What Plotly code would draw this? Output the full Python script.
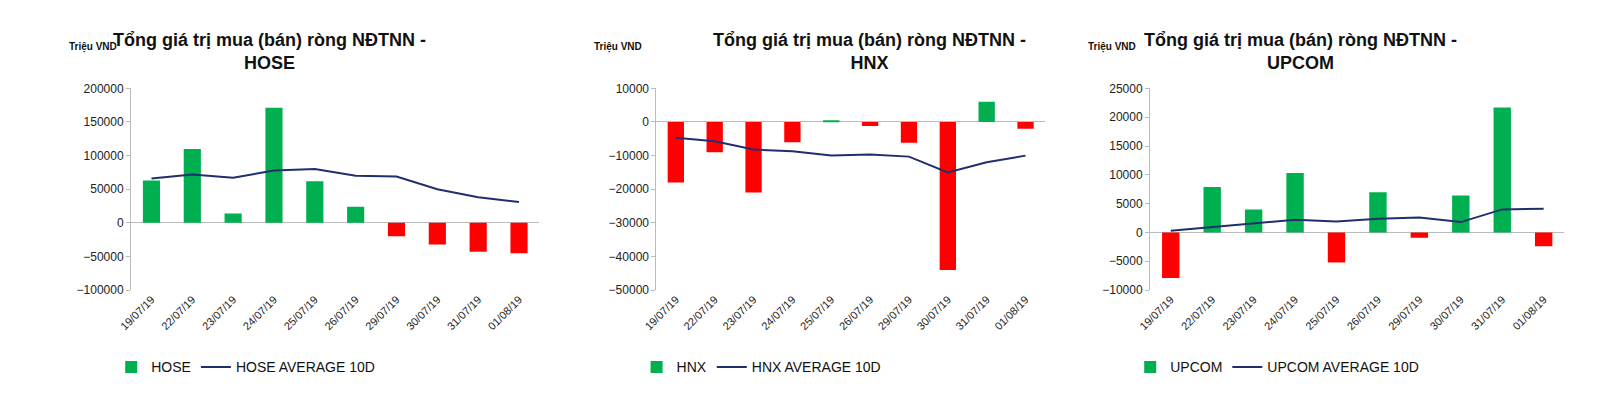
import plotly.graph_objects as go

dates = ["19/07/19", "22/07/19", "23/07/19", "24/07/19", "25/07/19",
         "26/07/19", "29/07/19", "30/07/19", "31/07/19", "01/08/19"]

hose = [63000, 110000, 14000, 171000, 62000, 24000, -20000, -32000, -43000, -45000]
hose_avg = [66000, 72000, 67000, 78000, 80000, 70000, 69000, 50000, 38000, 31000]

hnx = [-18000, -9000, -21000, -6000, 400, -1200, -6200, -44000, 6000, -2000]
hnx_avg = [-4700, -5700, -8200, -8700, -10000, -9700, -10300, -15000, -12000, -10000]

upcom = [-7900, 7900, 4000, 10300, -5200, 7000, -900, 6400, 21700, -2400]
upcom_avg = [300, 900, 1600, 2200, 1900, 2400, 2600, 1800, 4000, 4100]

GREEN = "#00b050"
RED = "#ff0000"
NAVY = "#1f2f6e"
W, H = 1600, 404

panels = [
    ("HOSE", hose, hose_avg, (110, 522), [-100000, 200000], 50000, 250),
    ("HNX", hnx, hnx_avg, (640, 1032), [-50000, 10000], 10000, 855),
    ("UPCOM", upcom, upcom_avg, (1138, 1556), [-10000, 25000], 5000, 1290),
]

fig = go.Figure()
ydom = [1 - 285 / H, 1 - 76 / H]

for i, (name, vals, avg, (x0, x1), yr, dt, tx) in enumerate(panels):
    n = "" if i == 0 else str(i + 1)
    leg = "legend" if i == 0 else f"legend{i + 1}"
    pos = [v if v >= 0 else None for v in vals]
    neg = [v if v < 0 else None for v in vals]
    fig.add_trace(go.Bar(
        x=dates, y=pos, name=name, marker=dict(color=GREEN, line=dict(width=0)),
        width=0.42, xaxis="x" + n, yaxis="y" + n, legend=leg,
    ))
    fig.add_trace(go.Bar(
        x=dates, y=neg, name=name, marker=dict(color=RED, line=dict(width=0)),
        width=0.42, xaxis="x" + n, yaxis="y" + n, showlegend=False,
    ))
    fig.add_trace(go.Scatter(
        x=dates, y=avg, name=f"{name} AVERAGE 10D", mode="lines",
        line=dict(color=NAVY, width=2), xaxis="x" + n, yaxis="y" + n, legend=leg,
    ))
    fig.update_layout(**{
        "xaxis" + n: dict(domain=[x0 / W, x1 / W], anchor="y" + n, tickangle=-45,
                          showgrid=False, showline=False, ticks="",
                          tickfont=dict(size=11, color="#222")),
        "yaxis" + n: dict(domain=ydom, anchor="x" + n, range=yr, dtick=dt,
                          tickformat="d", showgrid=False, showline=True, linecolor="#bbb",
                          ticks="outside", ticklen=4, tickcolor="#bbb",
                          zeroline=True, zerolinecolor="#bbb", zerolinewidth=1,
                          tickfont=dict(size=12, color="#222")),
        leg: dict(orientation="h", x=(x0 - 20) / W, xanchor="left", y=1 - 365 / H,
                  yanchor="middle", font=dict(size=14, color="#111"),
                  bgcolor="rgba(0,0,0,0)"),
    })
    fig.add_annotation(x=tx / W, y=1 - 38 / H, xref="paper", yref="paper",
                       xanchor="center", yanchor="middle",
                       text=f"<b>Tổng giá trị mua (bán) ròng NĐTNN -<br>{name}</b>",
                       showarrow=False, font=dict(size=18, color="#111"))
    fig.add_annotation(x=(x0 - 65) / W, y=1 - 33 / H, xref="paper", yref="paper",
                       xanchor="left", yanchor="middle", text="<b>Triệu VND</b>",
                       showarrow=False, font=dict(size=10, color="#111"))

fig.update_layout(
    width=W, height=H, margin=dict(l=0, r=0, t=0, b=0),
    paper_bgcolor="white", plot_bgcolor="white",
    font=dict(family="Liberation Sans, Arial, sans-serif"),
    barmode="overlay", separators=".,",
)

fig.write_html("out.html")
